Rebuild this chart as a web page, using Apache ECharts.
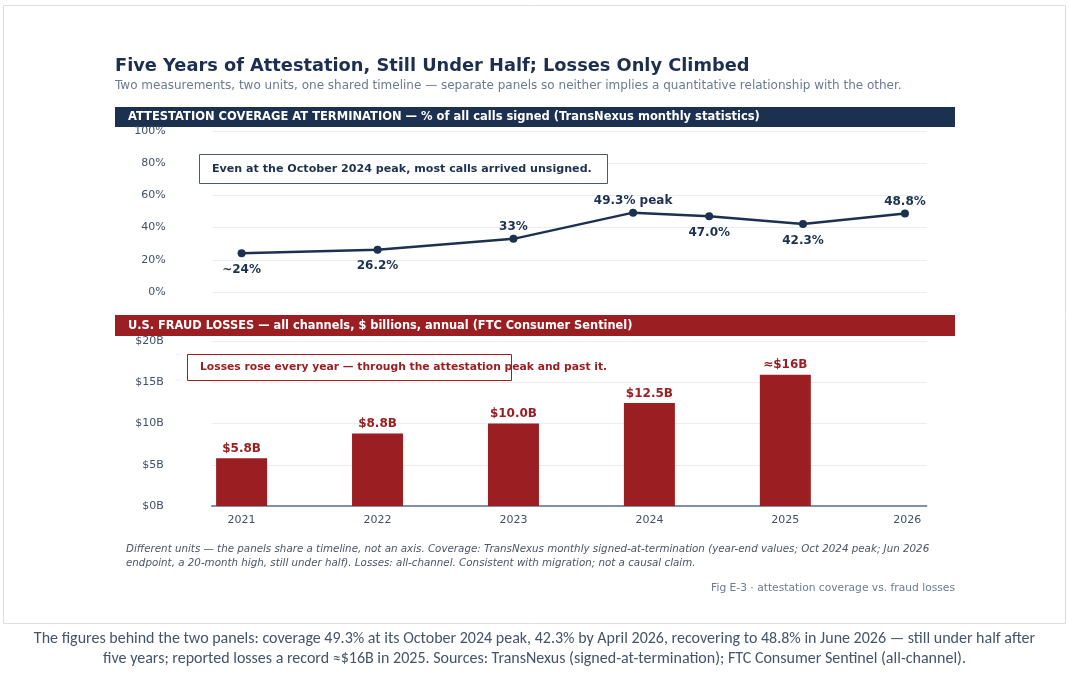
<!DOCTYPE html>
<html>
<head>
<meta charset="utf-8">
<script src="https://cdn.jsdelivr.net/npm/echarts@6/dist/echarts.min.js"></script>
<style>
  html, body { margin: 0; padding: 0; background: #ffffff; }
  #chart { width: 1069px; height: 675px; }
</style>
</head>
<body>
<div id="chart"></div>
<script>
// ---- data ----
const axisYears = [2021, 2022, 2023, 2024, 2025, 2026];
const lossYears = [2021, 2022, 2023, 2024, 2025];
const lossValues = [5.8, 8.8, 10.0, 12.5, 15.9];
const lossLabels = ['$5.8B', '$8.8B', '$10.0B', '$12.5B', '≈$16B'];
const coverageX = [2021, 2022, 2023, 2023.88, 2024.44, 2025.13, 2025.88];
const coverageValues = [24, 26.2, 33, 49.3, 47.0, 42.3, 48.8];
const coverageLabels = ['~24%', '26.2%', '33%', '49.3% peak', '47.0%', '42.3%', '48.8%'];
const pctTicks = [0, 20, 40, 60, 80, 100];
const lossTicks = [0, 5, 10, 15, 20];

// ---- style config ----
const NAVY = '#1c3150';
const RED = '#9b1e22';
const AXIS_TXT = '#3f5069';
const GRIDC = '#e9edf2';
const labelSide = ['bottom', 'bottom', 'top', 'top', 'bottom', 'bottom', 'top'];
const X_MIN = 2020.78, X_MAX = 2026.04;
const FONT = 'DejaVu Sans';

const chart = echarts.init(document.getElementById('chart'));

const lineData = coverageX.map((x, i) => ({
  value: [x, coverageValues[i]],
  label: { position: labelSide[i], distance: labelSide[i] === 'top' ? 1.5 : 6.5, formatter: coverageLabels[i] }
}));
const barData = lossYears.map((y, i) => ({
  value: [y, lossValues[i]],
  label: { formatter: lossLabels[i] }
}));

const option = {
  animation: false,
  textStyle: { fontFamily: FONT },
  grid: [
    { left: 211.7, right: 142.3, top: 131, height: 161 },
    { left: 211.7, right: 142.3, top: 341, height: 165 }
  ],
  xAxis: [
    { gridIndex: 0, type: 'value', min: X_MIN, max: X_MAX, show: false },
    {
      gridIndex: 1, type: 'value', min: X_MIN, max: X_MAX,
      axisLine: { show: true, lineStyle: { color: '#5b6f8e', width: 1.5 } },
      axisTick: { show: false },
      splitLine: { show: false },
      axisLabel: {
        customValues: axisYears,
        formatter: v => String(Math.round(v)),
        color: AXIS_TXT, fontSize: 11, fontFamily: FONT, margin: 9,
        alignMaxLabel: 'right'
      }
    }
  ],
  yAxis: [
    {
      gridIndex: 0, type: 'value', min: pctTicks[0], max: pctTicks[pctTicks.length - 1], interval: 20,
      axisLine: { show: false }, axisTick: { show: false },
      splitLine: { lineStyle: { color: GRIDC, width: 1 } },
      axisLabel: { formatter: '{value}%', color: AXIS_TXT, fontSize: 11, fontFamily: FONT, margin: 46 }
    },
    {
      gridIndex: 1, type: 'value', min: lossTicks[0], max: lossTicks[lossTicks.length - 1], interval: 5,
      axisLine: { show: false }, axisTick: { show: false },
      splitLine: { lineStyle: { color: GRIDC, width: 1 } },
      axisLabel: { formatter: '${value}B', color: AXIS_TXT, fontSize: 11, fontFamily: FONT, margin: 48 }
    }
  ],
  series: [
    {
      type: 'line', xAxisIndex: 0, yAxisIndex: 0,
      data: lineData,
      symbol: 'circle', symbolSize: 8,
      lineStyle: { color: NAVY, width: 2.5 },
      itemStyle: { color: NAVY },
      label: { show: true, color: NAVY, fontWeight: 'bold', fontSize: 12, fontFamily: FONT },
      z: 5
    },
    {
      type: 'bar', xAxisIndex: 1, yAxisIndex: 1,
      data: barData, barWidth: 51,
      itemStyle: { color: RED },
      label: { show: true, position: 'top', distance: 3.5, color: RED, fontWeight: 'bold', fontSize: 12, fontFamily: FONT }
    }
  ],
  graphic: [
    { type: 'rect', shape: { x: 3.5, y: 5.5, width: 1062, height: 618 }, style: { fill: 'none', stroke: '#dcdde5', lineWidth: 1 }, z: -1 },
    { type: 'text', x: 115, y: 66, style: { text: 'Five Years of Attestation, Still Under Half; Losses Only Climbed', font: 'bold 17.8px "DejaVu Sans"', fill: '#1c2f4e', verticalAlign: 'middle' } },
    { type: 'text', x: 115, y: 86, style: { text: 'Two measurements, two units, one shared timeline — separate panels so neither implies a quantitative relationship with the other.', font: '12px "DejaVu Sans"', fill: '#6b7b8f', verticalAlign: 'middle' } },
    { type: 'rect', shape: { x: 115, y: 107, width: 840, height: 20 }, style: { fill: NAVY } },
    { type: 'text', x: 128, y: 117.5, style: { text: 'ATTESTATION COVERAGE AT TERMINATION — % of all calls signed (TransNexus monthly statistics)', font: 'bold 11.5px "DejaVu Sans"', fill: '#ffffff', verticalAlign: 'middle' } },
    { type: 'rect', shape: { x: 115, y: 315, width: 840, height: 21 }, style: { fill: RED } },
    { type: 'text', x: 128, y: 326, style: { text: 'U.S. FRAUD LOSSES — all channels, $ billions, annual (FTC Consumer Sentinel)', font: 'bold 11.4px "DejaVu Sans"', fill: '#ffffff', verticalAlign: 'middle' } },
    { type: 'rect', z: 10, shape: { x: 199.5, y: 154.5, width: 408, height: 29 }, style: { fill: '#ffffff', stroke: '#4a5a72', lineWidth: 1 } },
    { type: 'text', z: 11, x: 212, y: 169, style: { text: 'Even at the October 2024 peak, most calls arrived unsigned.', font: 'bold 11.1px "DejaVu Sans"', fill: NAVY, verticalAlign: 'middle' } },
    { type: 'rect', z: 10, shape: { x: 187.5, y: 354.5, width: 324, height: 26 }, style: { fill: '#ffffff', stroke: RED, lineWidth: 1 } },
    { type: 'text', z: 11, x: 200, y: 367.5, style: { text: 'Losses rose every year — through the attestation peak and past it.', font: 'bold 10.75px "DejaVu Sans"', fill: RED, verticalAlign: 'middle' } },
    { type: 'text', x: 126, y: 549, style: { text: 'Different units — the panels share a timeline, not an axis. Coverage: TransNexus monthly signed-at-termination (year-end values; Oct 2024 peak; Jun 2026', font: 'italic 10.3px "DejaVu Sans"', fill: '#4a5568', verticalAlign: 'middle' } },
    { type: 'text', x: 126, y: 563, style: { text: 'endpoint, a 20-month high, still under half). Losses: all-channel. Consistent with migration; not a causal claim.', font: 'italic 10.3px "DejaVu Sans"', fill: '#4a5568', verticalAlign: 'middle' } },
    { type: 'text', x: 955, y: 588, style: { text: 'Fig E-3 · attestation coverage vs. fraud losses', font: '10.7px "DejaVu Sans"', fill: '#6b7b8f', align: 'right', verticalAlign: 'middle' } },
    { type: 'text', x: 534.5, y: 639, style: { text: 'The figures behind the two panels: coverage 49.3% at its October 2024 peak, 42.3% by April 2026, recovering to 48.8% in June 2026 — still under half after', font: '16px Carlito, Lato, sans-serif', fill: '#44546a', align: 'center', verticalAlign: 'middle' } },
    { type: 'text', x: 534.5, y: 659, style: { text: 'five years; reported losses a record ≈$16B in 2025. Sources: TransNexus (signed-at-termination); FTC Consumer Sentinel (all-channel).', font: '16px Carlito, Lato, sans-serif', fill: '#44546a', align: 'center', verticalAlign: 'middle' } }
  ]
};
chart.setOption(option);
</script>
</body>
</html>
